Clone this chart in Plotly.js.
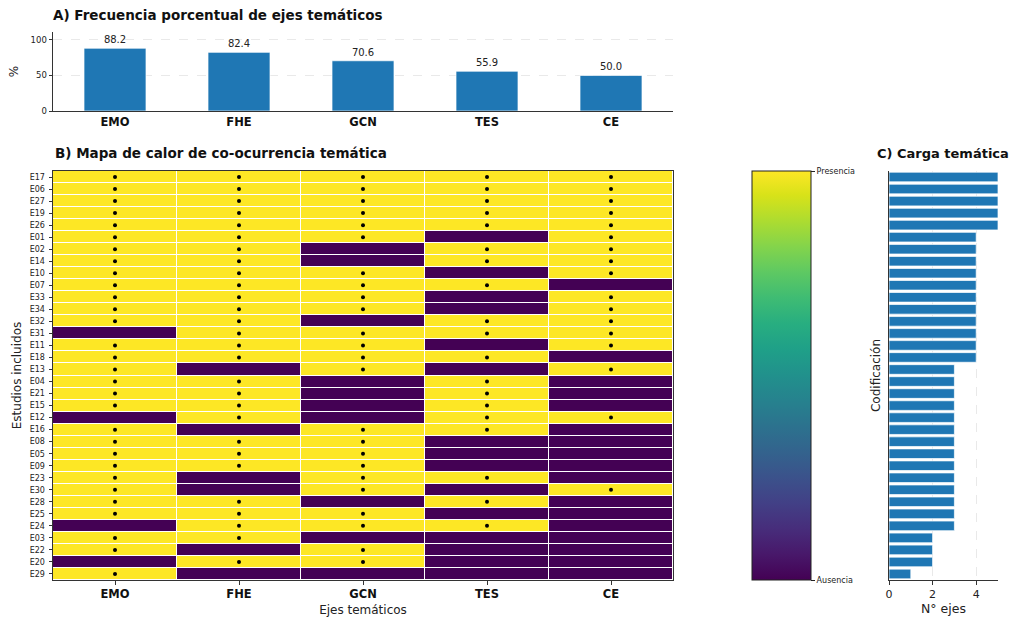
<!DOCTYPE html>
<html>
<head>
<meta charset="utf-8">
<script src="https://cdn.plot.ly/plotly-3.0.1.min.js"></script>
<style>html,body{margin:0;padding:0;background:#fff;}#chart{width:1013px;height:619px;}</style>
</head>
<body>
<div id="chart"></div>
<script>
// ---- Data ----
const ejes = ['EMO', 'FHE', 'GCN', 'TES', 'CE'];
const porcentajes = [88.2, 82.4, 70.6, 55.9, 50.0];
const estudios = ['E17','E06','E27','E19','E26','E01','E02','E14','E10','E07','E33','E34','E32','E31','E11','E18','E13','E04','E21','E15','E12','E16','E08','E05','E09','E23','E30','E28','E25','E24','E03','E22','E20','E29'];
const emo = [1,1,1,1,1,1,1,1,1,1,1,1,1,0,1,1,1,1,1,1,0,1,1,1,1,1,1,1,1,0,1,1,0,1];
const fhe = [1,1,1,1,1,1,1,1,1,1,1,1,1,1,1,1,0,1,1,1,1,0,1,1,1,0,0,1,1,1,1,0,1,0];
const gcn = [1,1,1,1,1,1,0,0,1,1,1,1,0,1,1,1,1,0,0,0,0,1,1,1,1,1,1,0,1,1,0,1,1,0];
const tes = [1,1,1,1,1,0,1,1,0,1,0,0,1,1,0,1,0,1,1,1,1,1,0,0,0,1,0,1,0,1,0,0,0,0];
const ce  = [1,1,1,1,1,1,1,1,1,0,1,1,1,1,1,0,1,0,0,0,1,0,0,0,0,0,1,0,0,0,0,0,0,0];
const carga = [5,5,5,5,5,4,4,4,4,4,4,4,4,4,4,4,3,3,3,3,3,3,3,3,3,3,3,3,3,3,2,2,2,1];
const etiquetasBarra = ['Ausencia', 'Presencia'];

// ---- Build ----
const W = 1013, H = 619;
const px = v => v / W;
const py = v => 1 - v / H;
const cols = [emo, fhe, gcn, tes, ce];
const z = estudios.map((_, i) => cols.map(c => c[i]));
const dotX = [], dotY = [];
estudios.forEach((e, i) => cols.forEach((c, j) => { if (c[i] === 1) { dotX.push(ejes[j]); dotY.push(e); } }));
const nEst = estudios.length;

const font = 'DejaVu Sans, sans-serif';
const blue = '#1f77b4';

const traces = [
  {
    type: 'bar', x: ejes, y: porcentajes, xaxis: 'x', yaxis: 'y',
    marker: {color: blue, line: {color: 'rgba(255,255,255,0.7)', width: 1}},
    width: 0.5,
    text: porcentajes.map(v => v.toFixed(1)), textposition: 'outside',
    textfont: {family: font, size: 10, color: '#222'}, cliponaxis: false,
    hoverinfo: 'x+y'
  },
  {
    type: 'heatmap', x: ejes, y: estudios, z: z, xaxis: 'x2', yaxis: 'y2',
    colorscale: 'Viridis', zmin: 0, zmax: 1, xgap: 1, ygap: 1,
    colorbar: {
      x: px(752), xanchor: 'left', xpad: 0, ypad: 0,
      y: py((171 + 580) / 2), yanchor: 'middle',
      len: 409 / H, lenmode: 'fraction',
      thickness: 59, thicknessmode: 'pixels',
      outlinewidth: 1, outlinecolor: '#222',
      tickmode: 'array', tickvals: [0, 1], ticktext: etiquetasBarra,
      ticks: 'outside', ticklen: 4, tickcolor: '#222',
      tickfont: {family: font, size: 8, color: '#222'}
    }
  },
  {
    type: 'scatter', mode: 'markers', x: dotX, y: dotY, xaxis: 'x2', yaxis: 'y2',
    marker: {color: 'black', size: 4}, hoverinfo: 'skip', showlegend: false
  },
  {
    type: 'bar', orientation: 'h', x: carga, y: estudios, xaxis: 'x3', yaxis: 'y3',
    marker: {color: blue, line: {color: 'rgba(255,255,255,0.7)', width: 1}},
    width: 0.8
  }
];

const layout = {
  width: W, height: H,
  margin: {l: 0, r: 0, t: 0, b: 0},
  paper_bgcolor: 'white', plot_bgcolor: 'white',
  showlegend: false,
  font: {family: font, color: '#222'},
  bargap: 0,
  title: {
    text: '<b>A) Frecuencia porcentual de ejes temáticos</b>',
    x: px(53), xanchor: 'left', xref: 'paper',
    y: py(15), yanchor: 'middle', yref: 'paper',
    font: {family: font, size: 13.5, color: '#111'}
  },
  xaxis: {
    domain: [px(53), px(673)], anchor: 'y', type: 'category',
    range: [-0.5, 4.5], showline: true, linecolor: '#333', linewidth: 1,
    ticks: '', tickfont: {family: font, size: 11.5, color: '#111', weight: 'bold'},
    showgrid: false, zeroline: false
  },
  yaxis: {
    domain: [py(111), py(32)], anchor: 'x', range: [0, 111],
    tickvals: [0, 50, 100], ticks: 'outside', ticklen: 3.5, tickcolor: '#333',
    tickfont: {family: font, size: 8.5, color: '#222'},
    showline: true, linecolor: '#333', linewidth: 1,
    showgrid: true, gridcolor: '#e3e3e3', griddash: 'dash', gridwidth: 0.8,
    zeroline: false,
    title: {text: '%', font: {family: font, size: 12, color: '#222'}, standoff: 9}
  },
  xaxis2: {
    domain: [px(53), px(673)], anchor: 'y2', type: 'category',
    range: [-0.5, 4.5], showline: true, mirror: true, linecolor: '#333', linewidth: 1,
    ticks: 'outside', ticklen: 3.5, tickcolor: '#333',
    tickfont: {family: font, size: 11.5, color: '#111', weight: 'bold'},
    showgrid: false, zeroline: false,
    title: {text: 'Ejes temáticos', font: {family: font, size: 12, color: '#222'}, standoff: 5}
  },
  yaxis2: {
    domain: [py(580), py(171)], anchor: 'x2', type: 'category',
    range: [nEst - 0.5, -0.5], showline: true, mirror: true, linecolor: '#333', linewidth: 1,
    ticks: 'outside', ticklen: 3.5, tickcolor: '#333', ticklabelstandoff: 2,
    tickfont: {family: font, size: 8, color: '#222'},
    showgrid: false, zeroline: false,
    title: {text: 'Estudios incluidos', font: {family: font, size: 12, color: '#222'}, standoff: 5}
  },
  xaxis3: {
    domain: [px(889), px(998)], anchor: 'y3', range: [0, 5],
    tickvals: [0, 2, 4], ticks: 'outside', ticklen: 3.5, tickcolor: '#333',
    tickfont: {family: font, size: 11, color: '#222'},
    showline: true, linecolor: '#333', linewidth: 1,
    showgrid: true, gridcolor: '#e3e3e3', griddash: 'dash', gridwidth: 0.8,
    zeroline: false,
    title: {text: 'N° ejes', font: {family: font, size: 12.5, color: '#222'}, standoff: 3}
  },
  yaxis3: {
    domain: [py(580), py(171)], anchor: 'x3', type: 'category',
    range: [nEst - 0.5, -0.5], showticklabels: false, ticks: '',
    showline: true, linecolor: '#333', linewidth: 1, showgrid: false, zeroline: false,
    title: {text: 'Codificación', font: {family: font, size: 12, color: '#222'}, standoff: 4}
  },
  annotations: [
    {
      text: '<b>B) Mapa de calor de co-ocurrencia temática</b>', xref: 'paper', yref: 'paper',
      x: px(53), y: py(153), xanchor: 'left', yanchor: 'middle', showarrow: false,
      font: {family: font, size: 13.5, color: '#111'}
    },
    {
      text: '<b>C) Carga temática</b>', xref: 'paper', yref: 'paper',
      x: px(1011), y: py(153), xanchor: 'right', yanchor: 'middle', showarrow: false,
      font: {family: font, size: 13, color: '#111'}
    }
  ]
};

Plotly.newPlot('chart', traces, layout, {displayModeBar: false, staticPlot: true});
</script>
</body>
</html>
